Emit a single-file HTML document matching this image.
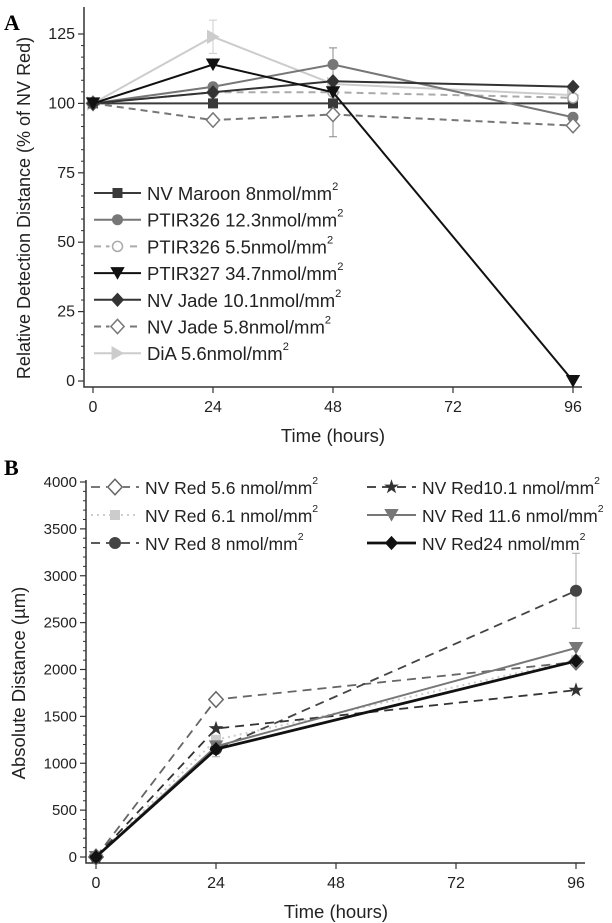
<!DOCTYPE html>
<html><head><meta charset="utf-8"><style>
body{margin:0;background:#fff}
svg{display:block;font-family:"Liberation Sans",Arial,sans-serif}
</style></head><body>
<svg id="fig" width="612" height="923" viewBox="0 0 612 923">
<text x="4" y="30" font-family="Liberation Serif" font-weight="bold" font-size="22">A</text>
<text x="4" y="475" font-family="Liberation Serif" font-weight="bold" font-size="22">B</text>
<g id="pa"></g>
<g id="pb"></g>
</svg>
<script>
// ---- Panel A data ----
const timesA = [0, 24, 48, 96];
const aLabels = ["NV Maroon 8nmol/mm", "PTIR326 12.3nmol/mm", "PTIR326 5.5nmol/mm", "PTIR327 34.7nmol/mm", "NV Jade 10.1nmol/mm", "NV Jade 5.8nmol/mm", "DiA 5.6nmol/mm"];
const aMaroon = [100, 100, 100, 100];
const aPtir326hi = [100, 106, 114, 95];
const aPtir326lo = [100, 104, 104, 102];
const aPtir327 = [100, 114, 104, 0];
const aJadeHi = [100, 104, 108, 106];
const aJadeLo = [100, 94, 96, 92];
const aDiA = [100, 124, 107, 103];
const aTicksY = [0, 25, 50, 75, 100, 125];
const ticksX = [0, 24, 48, 72, 96];
// ---- Panel B data ----
const timesB = [0, 24, 96];
const bLabels = ["NV Red 5.6 nmol/mm", "NV Red 6.1 nmol/mm", "NV Red 8 nmol/mm", "NV Red10.1 nmol/mm", "NV Red 11.6 nmol/mm", "NV Red24 nmol/mm"];
const b56 = [0, 1680, 2080];
const b61 = [0, 1250, 2100];
const b8 = [0, 1150, 2840];
const b101 = [0, 1370, 1780];
const b116 = [0, 1180, 2230];
const b24 = [0, 1150, 2090];
const b8err = [0, 80, 400];
const bTicksY = [0, 500, 1000, 1500, 2000, 2500, 3000, 3500, 4000];

const NS = "http://www.w3.org/2000/svg";
function mk(parent, tag, attrs, text) {
  const e = document.createElementNS(NS, tag);
  for (const k in attrs) e.setAttribute(k, attrs[k]);
  if (text !== undefined) e.textContent = text;
  parent.appendChild(e);
  return e;
}
function marker(g, type, x, y, color, s) {
  let e;
  if (type === "square") e = mk(g, "rect", {x: x - s, y: y - s, width: 2 * s, height: 2 * s, fill: color});
  else if (type === "circle") e = mk(g, "circle", {cx: x, cy: y, r: s, fill: color});
  else if (type === "ocircle") e = mk(g, "circle", {cx: x, cy: y, r: s, fill: "#fff", stroke: color, "stroke-width": 1.5});
  else if (type === "tridown") e = mk(g, "polygon", {points: `${x - s * 1.2},${y - s} ${x + s * 1.2},${y - s} ${x},${y + s * 1.1}`, fill: color});
  else if (type === "triright") e = mk(g, "polygon", {points: `${x - s},${y - s * 1.2} ${x - s},${y + s * 1.2} ${x + s * 1.1},${y}`, fill: color});
  else if (type === "diamond") e = mk(g, "polygon", {points: `${x},${y - s * 1.3} ${x + s * 1.2},${y} ${x},${y + s * 1.3} ${x - s * 1.2},${y}`, fill: color});
  else if (type === "odiamond") e = mk(g, "polygon", {points: `${x},${y - s * 1.3} ${x + s * 1.2},${y} ${x},${y + s * 1.3} ${x - s * 1.2},${y}`, fill: "#fff", stroke: color, "stroke-width": 1.5});
  else if (type === "star") {
    let p = [];
    for (let i = 0; i < 10; i++) { const r = i % 2 ? s * 0.5 : s * 1.3; const a = -Math.PI / 2 + i * Math.PI / 5; p.push((x + r * Math.cos(a)).toFixed(1) + "," + (y + r * Math.sin(a)).toFixed(1)); }
    e = mk(g, "polygon", {points: p.join(" "), fill: color});
  }
  
  
  return e;
}
function axes(g, o) {
  const ax = mk(g, "path", {d: `M${o.axL},${o.top} V${o.bot} H${o.axR}`, fill: "none", stroke: "#333", "stroke-width": 1.5});
  
  
  o.yt.forEach((v, i) => {
    const y = o.ys(v);
    mk(g, "line", {x1: o.axL - 6, x2: o.axL, y1: y, y2: y, stroke: "#333", "stroke-width": 1.2});
    const t = mk(g, "text", {x: o.axL - 9, y: y + 5, "text-anchor": "end", "font-size": o.yfs, fill: "#222"}, v);
    
    
    if (i < o.yt.length - 1) {
      const y2 = o.ys(o.yt[i + 1]);
      for (let k = 1; k < o.minor; k++) { const yy = y + (y2 - y) * k / o.minor; mk(g, "line", {x1: o.axL - 3, x2: o.axL, y1: yy, y2: yy, stroke: "#333", "stroke-width": 1}); }
    }
  });
  ticksX.forEach((v, i) => {
    const x = o.xs(v);
    mk(g, "line", {x1: x, x2: x, y1: o.bot, y2: o.bot + 6, stroke: "#333", "stroke-width": 1.2});
    const t = mk(g, "text", {x: x, y: o.bot + 25, "text-anchor": "middle", "font-size": 16, fill: "#222"}, v);
    
    
  });
  const xt = mk(g, "text", {x: (o.xs(0) + o.xs(96)) / 2, y: o.bot + 55, "text-anchor": "middle", "font-size": 18.5, fill: "#222"}, "Time (hours)");
  
  
  const yt = mk(g, "text", {x: 0, y: 0, transform: `translate(${o.ytx},${o.yty}) rotate(-90)`, "text-anchor": "middle", "font-size": o.ytfs, fill: "#222"}, o.ytitle);
  
  
}
function series(g, times, vals, xs, ys, st, name) {
  const sg = mk(g, "g", {});
  
  
  const pts = times.map((t, i) => xs(t) + "," + ys(vals[i])).join(" ");
  mk(sg, "polyline", {points: pts, fill: "none", stroke: st.c, "stroke-width": st.w, "stroke-dasharray": st.d || "none"});
  times.forEach((t, i) => marker(sg, st.m, xs(t), ys(vals[i]), st.mc || st.c, st.s || 5));
}
function legendEntry(g, x1, x2, y, text, st, fs) {
  const lg = mk(g, "g", {});
  
  
  mk(lg, "line", {x1: x1, x2: x2, y1: y, y2: y, stroke: st.c, "stroke-width": st.w, "stroke-dasharray": st.d || "none"});
  if (st.m[0] === "o") mk(lg, "rect", {x: (x1 + x2) / 2 - 8, y: y - 8, width: 16, height: 16, fill: "#fff"});
  marker(lg, st.m, (x1 + x2) / 2, y, st.mc || st.c, st.s || 5);
  const t = mk(lg, "text", {x: x2 + 6, y: y + 7, "font-size": fs, fill: "#222"}, text);
  mk(t, "tspan", {"font-size": fs * 0.6, dy: -10}, "2");
}

// ---- Panel A ----
const ga = document.getElementById("pa");
const xsA = t => 93 + t * (480 / 96);
const ysA = v => 381 - v * (347 / 125);
axes(ga, {axL: 84, axR: 582, top: 7, bot: 387, xs: xsA, ys: ysA, yt: aTicksY, minor: 6, yfs: 16, ytitle: "Relative Detection Distance (% of NV Red)", ytfs: 18, ytx: 30, yty: 208});
const stA = [
  {c: "#3a3a3a", w: 2, m: "square", s: 5},
  {c: "#777", w: 2, m: "circle", s: 5.5},
  {c: "#aaa", w: 2, d: "7,5", m: "ocircle", s: 5},
  {c: "#111", w: 2, m: "tridown", s: 6},
  {c: "#333", w: 2, m: "diamond", s: 5.5},
  {c: "#777", w: 2, d: "7,5", m: "odiamond", s: 5.5},
  {c: "#ccc", w: 2, m: "triright", s: 6}
];
const aData = [aMaroon, aPtir326hi, aPtir326lo, aPtir327, aJadeHi, aJadeLo, aDiA];
[[aDiA, 1, 6, "#ccc"], [aPtir326hi, 2, 6, "#888"], [aJadeLo, 2, 8, "#888"]].forEach(([arr, i, e, c]) => {
  const x = xsA(timesA[i]);
  mk(ga, "path", {d: `M${x},${ysA(arr[i] - e)} V${ysA(arr[i] + e)} M${x - 4},${ysA(arr[i] - e)} h8 M${x - 4},${ysA(arr[i] + e)} h8`, stroke: c, "stroke-width": 1, fill: "none"});
});
[6, 0, 2, 1, 5, 4, 3].forEach(i => series(ga, timesA, aData[i], xsA, ysA, stA[i], "series-a-" + i));
aLabels.forEach((l, i) => legendEntry(ga, 94, 141, 193 + i * 26.7, l, stA[i], 18.5));

// ---- Panel B ----
const gb = document.getElementById("pb");
const xsB = t => 96 + t * (480 / 96);
const ysB = v => 857 - v * (375 / 4000);
axes(gb, {axL: 86, axR: 585, top: 480, bot: 863, xs: xsB, ys: ysB, yt: bTicksY, minor: 5, yfs: 15, ytitle: "Absolute Distance (\u00b5m)", ytfs: 18.5, ytx: 25, yty: 683});
const stB = [
  {c: "#666", w: 1.8, d: "9,6", m: "odiamond", s: 6},
  {c: "#ccc", w: 2, d: "2,4", m: "square", s: 5},
  {c: "#444", w: 1.8, d: "9,6", m: "circle", s: 6},
  {c: "#333", w: 1.8, d: "9,6", m: "star", s: 6},
  {c: "#777", w: 2, m: "tridown", s: 6},
  {c: "#111", w: 2.8, m: "diamond", s: 5.5}
];
const bData = [b56, b61, b8, b101, b116, b24];
timesB.forEach((t, i) => {
  if (!b8err[i]) return;
  const x = xsB(t);
  mk(gb, "path", {d: `M${x},${ysB(b8[i] - b8err[i])} V${ysB(b8[i] + b8err[i])} M${x - 4},${ysB(b8[i] - b8err[i])} h8 M${x - 4},${ysB(b8[i] + b8err[i])} h8`, stroke: "#aaa", "stroke-width": 1, fill: "none"});
});
[1, 0, 2, 3, 4, 5].forEach(i => series(gb, timesB, bData[i], xsB, ysB, stB[i], "series-b-" + i));
bLabels.forEach((l, i) => {
  const col = i < 3 ? 0 : 1, row = i % 3;
  const x1 = col ? 367 : 91, x2 = col ? 416 : 139;
  legendEntry(gb, x1, x2, 487 + row * 28, l, stB[i], 17.5);
});
</script>
</body></html>
